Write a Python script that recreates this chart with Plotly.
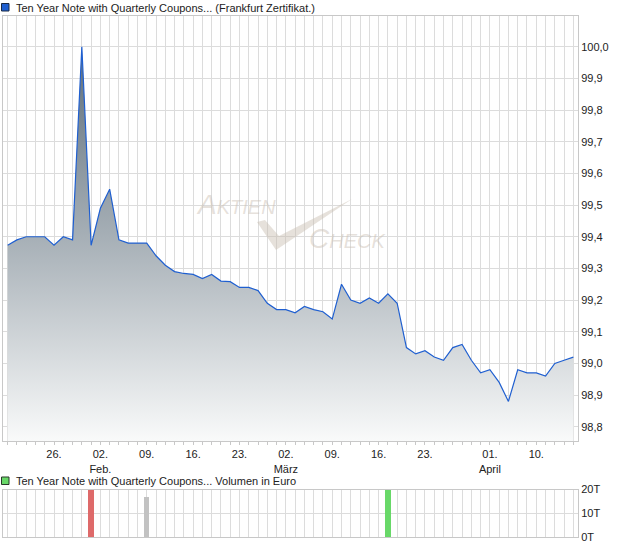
import plotly.graph_objects as go

# ---------------- data ----------------
dates = [
    "2026-01-19", "2026-01-20", "2026-01-21", "2026-01-22", "2026-01-23",
    "2026-01-26", "2026-01-27", "2026-01-28", "2026-01-29", "2026-01-30",
    "2026-02-02", "2026-02-03", "2026-02-04", "2026-02-05", "2026-02-06",
    "2026-02-09", "2026-02-10", "2026-02-11", "2026-02-12", "2026-02-13",
    "2026-02-16", "2026-02-17", "2026-02-18", "2026-02-19", "2026-02-20",
    "2026-02-23", "2026-02-24", "2026-02-25", "2026-02-26", "2026-02-27",
    "2026-03-02", "2026-03-03", "2026-03-04", "2026-03-05", "2026-03-06",
    "2026-03-09", "2026-03-10", "2026-03-11", "2026-03-12", "2026-03-13",
    "2026-03-16", "2026-03-17", "2026-03-18", "2026-03-19", "2026-03-20",
    "2026-03-23", "2026-03-24", "2026-03-25", "2026-03-26", "2026-03-27",
    "2026-03-30", "2026-03-31", "2026-04-01", "2026-04-02", "2026-04-07",
    "2026-04-08", "2026-04-09", "2026-04-10", "2026-04-13", "2026-04-14",
    "2026-04-15", "2026-04-16",
]
prices = [
    99.373, 99.39, 99.40, 99.40, 99.40,
    99.373, 99.40, 99.39, 100.00, 99.373,
    99.49, 99.55, 99.39, 99.38, 99.38,
    99.38, 99.34, 99.31, 99.29, 99.284,
    99.281, 99.268, 99.281, 99.26, 99.258,
    99.24, 99.24, 99.23, 99.19, 99.17,
    99.17, 99.16, 99.18, 99.17, 99.163,
    99.14, 99.25, 99.20, 99.19, 99.207,
    99.19, 99.22, 99.19, 99.05, 99.03,
    99.04, 99.02, 99.01, 99.05, 99.06,
    99.01, 98.97, 98.98, 98.94, 98.88,
    98.98, 98.97, 98.97, 98.96, 99.00,
    99.01, 99.02,
]
vol_dates = ["2026-01-30", "2026-02-09", "2026-03-17"]
volumes = [20, 17.2, 20]          # in thousand euro (T)
vol_colors = ["#de6a6a", "#c2c2c2", "#68d868"]

tick_labels = {
    "2026-01-26": "26.",
    "2026-02-02": "02.<br>Feb.",
    "2026-02-09": "09.",
    "2026-02-16": "16.",
    "2026-02-23": "23.",
    "2026-03-02": "02.<br>März",
    "2026-03-09": "09.",
    "2026-03-16": "16.",
    "2026-03-23": "23.",
    "2026-04-01": "01.<br>April",
    "2026-04-10": "10.",
}
price_ticks = [98.8, 98.9, 99.0, 99.1, 99.2, 99.3, 99.4, 99.5, 99.6, 99.7, 99.8, 99.9, 100.0]
vol_ticks = [0, 10, 20]
vol_tick_text = ["0T", "10T", "20T"]

title_main = "Ten Year Note with Quarterly Coupons... (Frankfurt Zertifikat.)"
title_vol = "Ten Year Note with Quarterly Coupons... Volumen in Euro"

# ---------------- layout helpers ----------------
W, H = 620, 546
ML, MR, MT, MB = 3, 42, 16, 9
PW, PH = W - ML - MR, H - MT - MB


def px(x):
    return (x - ML) / PW


def py(y):
    return (H - MB - y) / PH


GRID = "#dcdcdc"
LINE = "#c8c8c8"
FONT = "Liberation Sans, Arial, sans-serif"
n = len(dates)

fig = go.Figure()
fig.add_trace(go.Scatter(
    x=dates, y=prices, mode="lines",
    line=dict(color="#1f5fd0", width=1.2),
    fill="tozeroy",
    fillgradient=dict(type="vertical",
                      colorscale=[[0, "#f9fafa"], [0.52, "#a6afb6"], [1, "#5f6f7b"]],
                      start=98.755, stop=100.0),
    xaxis="x", yaxis="y", hoverinfo="x+y", showlegend=False,
))
fig.add_trace(go.Bar(
    x=vol_dates, y=volumes, marker=dict(color=vol_colors, line=dict(width=0)),
    width=0.58, xaxis="x2", yaxis="y2", showlegend=False,
))

common_x = dict(
    type="category", categoryorder="array", categoryarray=dates,
    range=[-0.5, n - 0.5], tickmode="array", tickvals=dates,
    showgrid=True, gridcolor=GRID, gridwidth=1,
    showline=True, linecolor=LINE, linewidth=1, mirror=True,
    zeroline=False, fixedrange=True,
)
fig.update_layout(
    width=W, height=H,
    margin=dict(l=ML, r=MR, t=MT, b=MB, autoexpand=False),
    paper_bgcolor="white", plot_bgcolor="white",
    separators=",.",
    font=dict(family=FONT, size=11, color="#222"),
    bargap=0,
    xaxis=dict(common_x, anchor="y", domain=[0, 1],
               ticktext=[tick_labels.get(d, "") for d in dates],
               ticks="outside", ticklen=3, tickcolor=LINE,
               tickfont=dict(size=11, color="#222")),
    yaxis=dict(domain=[py(441), 1], range=[98.755, 100.097], side="right",
               tickmode="array", tickvals=price_ticks, tickformat=".1f",
               showgrid=True, gridcolor=GRID, showline=True, linecolor=LINE,
               mirror=True, zeroline=False, ticks="", anchor="x",
               tickfont=dict(size=11, color="#222")),
    xaxis2=dict(common_x, anchor="y2", domain=[0, 1], showticklabels=False, ticks=""),
    yaxis2=dict(domain=[0, py(489.5)], range=[0, 20], side="right",
                tickmode="array", tickvals=vol_ticks, ticktext=vol_tick_text,
                showgrid=True, gridcolor=GRID, showline=True, linecolor=LINE,
                mirror=True, zeroline=False, ticks="", anchor="x2",
                tickfont=dict(size=11, color="#222")),
)

# legends (text + colored squares)
fig.add_annotation(x=px(14), y=py(7.5), xref="paper", yref="paper", text=title_main,
                   showarrow=False, xanchor="left", yanchor="middle",
                   font=dict(size=11, color="#222", family=FONT))
fig.add_annotation(x=px(14), y=py(480.5), xref="paper", yref="paper", text=title_vol,
                   showarrow=False, xanchor="left", yanchor="middle",
                   font=dict(size=11, color="#222", family=FONT))
fig.add_shape(type="rect", xref="paper", yref="paper",
              x0=px(1.5), x1=px(9), y0=py(11), y1=py(3.5),
              fillcolor="#1f5fd0", line=dict(color="#1a2a44", width=1))
fig.add_shape(type="rect", xref="paper", yref="paper",
              x0=px(1.5), x1=px(9), y0=py(484.5), y1=py(477),
              fillcolor="#68d868", line=dict(color="#2a3a2a", width=1))

# watermark
wm_color = "rgba(200,188,176,0.45)"
fig.add_annotation(x=px(236), y=py(204), xref="paper", yref="paper", text="Aktien",
                   showarrow=False, xanchor="center", yanchor="middle",
                   font=dict(size=28, color=wm_color, family=FONT, style="italic",
                             variant="small-caps"))
fig.add_annotation(x=px(347), y=py(238.5), xref="paper", yref="paper", text="Check",
                   showarrow=False, xanchor="center", yanchor="middle",
                   font=dict(size=28, color=wm_color, family=FONT, style="italic",
                             variant="small-caps"))
pts = [(257, 222), (265, 220), (279, 236), (352, 199), (282, 246), (276, 250)]
path = "M " + " L ".join(f"{px(a):.5f},{py(b):.5f}" for a, b in pts) + " Z"
fig.add_shape(type="path", xref="paper", yref="paper", path=path,
              fillcolor=wm_color, line=dict(width=0), layer="above")

fig.write_html(
    "out.html",
    config={"displayModeBar": False},
    post_script="document.body.style.margin='0';document.body.style.padding='0';",
)
